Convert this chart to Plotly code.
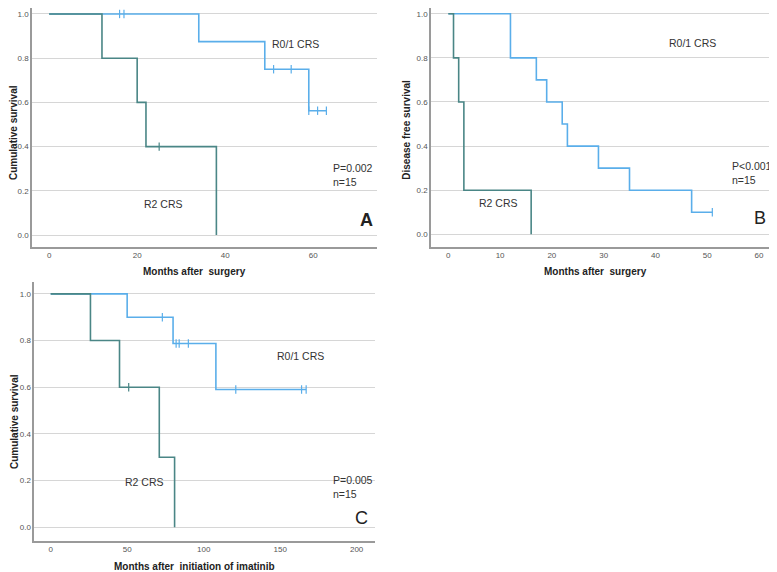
import plotly.graph_objects as go

# Kaplan-Meier step data: change times and survival after each change
# Panel A - overall survival after surgery
a_r01_t = [0, 34, 49, 59, 63]
a_r01_s = [1.0, 0.875, 0.75, 0.5625, 0.5625]
a_r01_cens = [16, 17, 51, 55, 59, 61, 63]
a_r2_t = [0, 12, 20, 22, 38]
a_r2_s = [1.0, 0.8, 0.6, 0.4, 0.0]
a_r2_cens = [25]

# Panel B - disease free survival
b_r01_t = [0, 12, 17, 19, 22, 23, 29, 35, 47, 51]
b_r01_s = [1.0, 0.8, 0.7, 0.6, 0.5, 0.4, 0.3, 0.2, 0.1, 0.1]
b_r01_cens = [51]
b_r2_t = [0, 1, 2, 3, 16]
b_r2_s = [1.0, 0.8, 0.6, 0.2, 0.0]
b_r2_cens = []

# Panel C - survival after initiation of imatinib
c_r01_t = [0, 50, 80, 108, 167]
c_r01_s = [1.0, 0.9, 0.7875, 0.5906, 0.5906]
c_r01_cens = [73, 82, 84, 90, 121, 164, 167]
c_r2_t = [0, 26, 45, 71, 81]
c_r2_s = [1.0, 0.8, 0.6, 0.3, 0.0]
c_r2_cens = [51]

y_ticks = [0.0, 0.2, 0.4, 0.6, 0.8, 1.0]

BLUE = '#5aaeea'
TEAL = '#4a8686'
# page is 777x572 but the html body has an 8px margin, so the figure is drawn smaller
OFF = 8
W, H = 777 - OFF, 572 - OFF


def surv_at(t, times, surv):
    s = surv[0]
    for tt, ss in zip(times, surv):
        if tt <= t:
            s = ss
    return s


def px(x0, x1):
    return [(x0 - OFF) / W, (x1 - OFF) / W]


def py(top, bottom):
    return [1 - (bottom - OFF) / H, 1 - (top - OFF) / H]


fig = go.Figure()

panels = [
    ('x', 'y', a_r01_t, a_r01_s, a_r01_cens, a_r2_t, a_r2_s, a_r2_cens),
    ('x2', 'y2', b_r01_t, b_r01_s, b_r01_cens, b_r2_t, b_r2_s, b_r2_cens),
    ('x3', 'y3', c_r01_t, c_r01_s, c_r01_cens, c_r2_t, c_r2_s, c_r2_cens),
]

for xa, ya, t1, s1, c1, t2, s2, c2 in panels:
    for t, s, cens, col in [(t1, s1, c1, BLUE), (t2, s2, c2, TEAL)]:
        fig.add_trace(go.Scatter(x=t, y=s, mode='lines', line=dict(color=col, width=1.6, shape='hv'),
                                 xaxis=xa, yaxis=ya, showlegend=False, hoverinfo='skip', cliponaxis=False))
        if cens:
            fig.add_trace(go.Scatter(x=cens, y=[surv_at(c, t, s) for c in cens], mode='markers',
                                     marker=dict(symbol='line-ns-open', size=6, color=col,
                                                 line=dict(color=col, width=1.2)),
                                     xaxis=xa, yaxis=ya, showlegend=False, hoverinfo='skip'))

axis_common = dict(showline=True, linecolor='#9a9a9a', linewidth=1.5, zeroline=False, ticks='',
                   automargin=False,
                   tickfont=dict(family='Liberation Sans, Arial', size=8, color='#555'))

fig.update_layout(
    width=W, height=H,
    margin=dict(l=0, r=0, t=0, b=0),
    paper_bgcolor='white', plot_bgcolor='white',
    xaxis=dict(domain=px(32, 377), range=[-3.9, 74.5], tickvals=[0, 20, 40, 60], showgrid=False,
               anchor='y', **axis_common),
    yaxis=dict(domain=py(8, 247), range=[-0.054, 1.027], tickvals=y_ticks, tickformat='.1f',
               showgrid=True, gridcolor='#d6d6d6', gridwidth=1.3, anchor='x', **axis_common),
    xaxis2=dict(domain=px(431, 776), range=[-3.35, 63.3], tickvals=[0, 10, 20, 30, 40, 50, 60],
                showgrid=False, anchor='y2', **axis_common),
    yaxis2=dict(domain=py(8, 246.7), range=[-0.056, 1.026], tickvals=y_ticks, tickformat='.1f',
                showgrid=True, gridcolor='#d6d6d6', gridwidth=1.3, anchor='x2', **axis_common),
    xaxis3=dict(domain=px(34.3, 375), range=[-10.7, 212], tickvals=[0, 50, 100, 150, 200],
                showgrid=False, anchor='y3', **axis_common),
    yaxis3=dict(domain=py(282, 541), range=[-0.059, 1.051], tickvals=y_ticks, tickformat='.1f',
                showgrid=True, gridcolor='#d6d6d6', gridwidth=1.3, anchor='x3', **axis_common),
)

FONT = 'Liberation Sans, Arial'
txt = dict(family=FONT, size=10.5, color='#333')
bold = dict(family=FONT, size=10, color='#222')
big = dict(family=FONT, size=18, color='#222')

notes = [
    # panel A
    ('x', 'y', 56, 0.864, 'R0/1 CRS', 'center', txt),
    ('x', 'y', 26, 0.14, 'R2 CRS', 'center', txt),
    ('x', 'y', 64, 0.27, 'P=0.002<br>n=15', 'left', txt),
    ('x', 'y', 72, 0.068, '<b>A</b>', 'center', big),
    # panel B
    ('x2', 'y2', 47.1, 0.866, 'R0/1 CRS', 'center', txt),
    ('x2', 'y2', 9.7, 0.14, 'R2 CRS', 'center', txt),
    ('x2', 'y2', 54.5, 0.277, 'P&lt;0.001<br>n=15', 'left', txt),
    ('x2', 'y2', 60.3, 0.074, 'B', 'center', big),
    # panel C
    ('x3', 'y3', 163.4, 0.734, 'R0/1 CRS', 'center', txt),
    ('x3', 'y3', 61.6, 0.195, 'R2 CRS', 'center', txt),
    ('x3', 'y3', 183.3, 0.174, 'P=0.005<br>n=15', 'left', txt),
    ('x3', 'y3', 203, 0.039, 'C', 'center', big),
]
for xr, yr, x, y, t, anc, f in notes:
    fig.add_annotation(x=x, y=y, xref=xr, yref=yr, text=t, showarrow=False, xanchor=anc,
                       yanchor='middle', align=anc, font=f)

# axis titles (page pixel positions)
titles = [
    (14, 133, 'Cumulative survival', -90),
    (405.7, 130, 'Disease free survival', -90),
    (14, 422, 'Cumulative survival', -90),
    (194, 271, 'Months after  surgery', 0),
    (595, 271, 'Months after  surgery', 0),
    (194, 566, 'Months after  initiation of imatinib', 0),
]
for x, y, t, ang in titles:
    fig.add_annotation(x=(x - OFF) / W, y=1 - (y - OFF) / H, xref='paper', yref='paper',
                       text='<b>' + t + '</b>', showarrow=False, xanchor='center', yanchor='middle',
                       textangle=ang, font=bold)

fig.write_html("out.html")
